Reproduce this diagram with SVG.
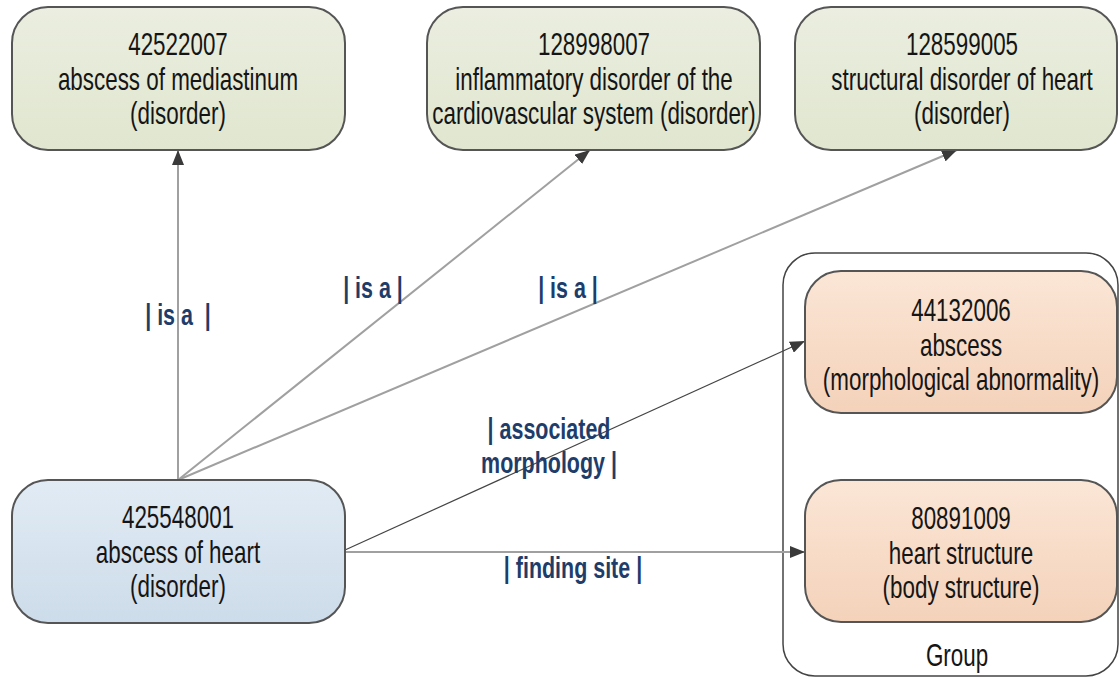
<svg xmlns="http://www.w3.org/2000/svg" width="1120" height="679" viewBox="0 0 1120 679">
<defs>
<style>
.nt{font-family:"Liberation Sans",Arial,sans-serif;font-size:32px;fill:#151515;text-anchor:middle}
.lb{font-family:"Liberation Sans",Arial,sans-serif;font-size:29px;font-weight:bold;fill:#1e3d6a;text-anchor:middle}
.box{stroke:#555;stroke-width:2}
.g{fill:url(#gG)}
.b{fill:url(#gB)}
.o{fill:url(#gO)}
.isa{stroke:#a0a0a0;stroke-width:2;fill:none;marker-end:url(#ah)}
.am{stroke:#444;stroke-width:1.2;fill:none;marker-end:url(#ah)}
</style>
<linearGradient id="gG" x1="0" y1="0" x2="0" y2="1"><stop offset="0" stop-color="#ebeee0"/><stop offset="1" stop-color="#e0e6cf"/></linearGradient>
<linearGradient id="gB" x1="0" y1="0" x2="0" y2="1"><stop offset="0" stop-color="#e1ebf4"/><stop offset="1" stop-color="#cddcea"/></linearGradient>
<linearGradient id="gO" x1="0" y1="0" x2="0" y2="1"><stop offset="0" stop-color="#fbe6d6"/><stop offset="1" stop-color="#f4d2ba"/></linearGradient>
<marker id="ah" markerUnits="userSpaceOnUse" markerWidth="16" markerHeight="12" refX="15" refY="6" orient="auto"><path d="M0,0 L15,6 L0,12 Z" fill="#3a3a3a"/></marker>
</defs>
<rect width="1120" height="679" fill="#fff"/>
<g id="group-box">
<rect x="783" y="253" width="335" height="423" rx="32" fill="#fff" stroke="#444" stroke-width="1.5"/>
<text class="nt" transform="translate(957,666) scale(0.7,1)">Group</text>
</g>
<g id="connectors">
<line class="isa" x1="178" y1="480" x2="178" y2="150"/>
<line class="isa" x1="178" y1="480" x2="590" y2="150"/>
<line class="isa" x1="178" y1="480" x2="957" y2="150"/>
<line class="am" x1="345" y1="550" x2="805" y2="341"/>
<line class="isa" x1="345" y1="552" x2="805" y2="552"/>
<text class="lb" transform="translate(178,325) scale(0.74,1)" xml:space="preserve">| is a  |</text>
<text class="lb" transform="translate(373,298) scale(0.74,1)">| is a |</text>
<text class="lb" transform="translate(568,298) scale(0.74,1)">| is a |</text>
<text class="lb" transform="translate(549,439) scale(0.74,1)"><tspan x="0" y="0">| associated</tspan><tspan x="0" y="34">morphology |</tspan></text>
<text class="lb" transform="translate(573,578) scale(0.74,1)">| finding site |</text>
</g>
<g id="n42522007">
<rect class="box g" x="12" y="7" width="333" height="143" rx="36"/>
<text class="nt" transform="translate(178,55) scale(0.7,1)"><tspan x="0" y="0">42522007</tspan><tspan x="0" y="35">abscess of mediastinum</tspan><tspan x="0" y="69">(disorder)</tspan></text>
</g>
<g id="n128998007">
<rect class="box g" x="427" y="7" width="333" height="143" rx="36"/>
<text class="nt" transform="translate(594,55) scale(0.7,1)"><tspan x="0" y="0">128998007</tspan><tspan x="0" y="35">inflammatory disorder of the</tspan><tspan x="0" y="69">cardiovascular system (disorder)</tspan></text>
</g>
<g id="n128599005">
<rect class="box g" x="795" y="7" width="322" height="143" rx="36"/>
<text class="nt" transform="translate(962,55) scale(0.7,1)"><tspan x="0" y="0">128599005</tspan><tspan x="0" y="35">structural disorder of heart</tspan><tspan x="0" y="69">(disorder)</tspan></text>
</g>
<g id="n425548001">
<rect class="box b" x="12" y="480" width="333" height="143" rx="36"/>
<text class="nt" transform="translate(178,528) scale(0.7,1)"><tspan x="0" y="0">425548001</tspan><tspan x="0" y="35">abscess of heart</tspan><tspan x="0" y="69">(disorder)</tspan></text>
</g>
<g id="n44132006">
<rect class="box o" x="805" y="271" width="312" height="142" rx="36"/>
<text class="nt" transform="translate(961,321) scale(0.7,1)"><tspan x="0" y="0">44132006</tspan><tspan x="0" y="35">abscess</tspan><tspan x="0" y="69">(morphological abnormality)</tspan></text>
</g>
<g id="n80891009">
<rect class="box o" x="805" y="480" width="312" height="142" rx="36"/>
<text class="nt" transform="translate(961,529) scale(0.7,1)"><tspan x="0" y="0">80891009</tspan><tspan x="0" y="35">heart structure</tspan><tspan x="0" y="69">(body structure)</tspan></text>
</g>
</svg>
